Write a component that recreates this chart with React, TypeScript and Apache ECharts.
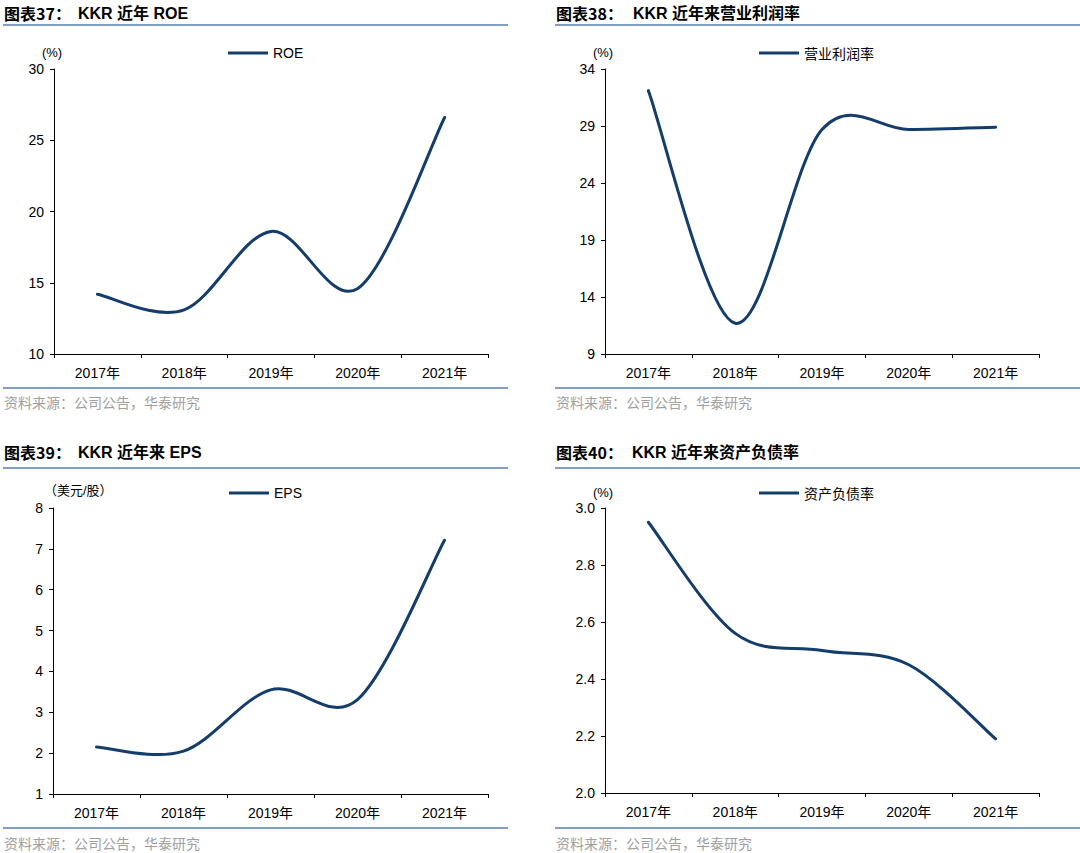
import React, { useEffect, useRef } from "react";
import * as echarts from "echarts";

const years = ["2017年", "2018年", "2019年", "2020年", "2021年"];
const roe = [14.2, 13.1, 18.6, 14.6, 26.6];
const opMargin = [32.1, 11.7, 28.7, 28.7, 28.9];
const eps = [2.15, 2.05, 3.55, 3.31, 7.21];
const debtRatio = [2.95, 2.56, 2.5, 2.45, 2.19];

const seriesNames = ["ROE", "营业利润率", "EPS", "资产负债率"];
const seriesData = [roe, opMargin, eps, debtRatio];
const yMins = [10, 9, 1, 2.0];
const yMaxs = [30, 34, 8, 3.0];
const yIntervals = [5, 5, 1, 0.2];
const yDecimals = [0, 0, 0, 1];
const unitNames = ["(%)", "(%)", "（美元/股）", "(%)"];
const figNos = ["图表37：", "图表38：", "图表39：", "图表40："];
const figTitles = ["KKR 近年 ROE", "KKR 近年来营业利润率", "KKR 近年来 EPS", "KKR 近年来资产负债率"];
const sourceText = "资料来源：公司公告，华泰研究";

const LINE_COLOR = "#143d6c";
const RULE_COLOR = "#819fc6";
const FONT = "'Liberation Sans', Arial, 'Noto Sans CJK SC', sans-serif";
const CJK = "'Noto Sans CJK SC', 'Liberation Sans', sans-serif";

// panel layout
const grids = [
  { left: 54, top: 69, width: 434, height: 285 },
  { left: 605, top: 69, width: 434, height: 285 },
  { left: 53, top: 508, width: 435, height: 286 },
  { left: 605, top: 508, width: 434, height: 285 },
];
const panelX = [4, 556, 4, 556];
const panelTitleX = [78, 633, 78, 632];
const titleY = [14, 14, 453, 453];
const ruleTopY = [25, 25, 468, 468];
const ruleBotY = [388, 388, 828, 828];
const ruleX2 = [508, 1080, 508, 1080];
const sourceY = [402, 402, 843, 843];
const legendPos = [
  { left: 228, top: 46 },
  { left: 759, top: 46 },
  { left: 229, top: 486 },
  { left: 759, top: 486 },
];
const unitPos = [
  { x: 52, y: 52, align: "center" },
  { x: 603, y: 52, align: "center" },
  { x: 44, y: 490, align: "left" },
  { x: 603, y: 492, align: "center" },
];

// Smoothed line (Catmull-Rom style, as in spreadsheet smoothed lines), using axis coords
function makeRenderItem(values: number[]) {
  return (params: any, api: any) => {
    if (params.dataIndex !== 0) return null;
    const pts: number[][] = values.map((v, j) => api.coord([j, v]));
    let d = `M${pts[0][0]},${pts[0][1]}`;
    for (let j = 0; j < pts.length - 1; j++) {
      const p0 = pts[j - 1] || pts[j];
      const p1 = pts[j];
      const p2 = pts[j + 1];
      const p3 = pts[j + 2] || pts[j + 1];
      const c1x = p1[0] + (p2[0] - p0[0]) / 6;
      const c1y = p1[1] + (p2[1] - p0[1]) / 6;
      const c2x = p2[0] - (p3[0] - p1[0]) / 6;
      const c2y = p2[1] - (p3[1] - p1[1]) / 6;
      d += ` C${c1x},${c1y} ${c2x},${c2y} ${p2[0]},${p2[1]}`;
    }
    return {
      type: "path",
      shape: { pathData: d },
      style: { stroke: LINE_COLOR, lineWidth: 3, fill: "none", lineCap: "round", lineJoin: "round" },
    };
  };
}

export default function App() {
  const ref = useRef<HTMLDivElement>(null);
  useEffect(() => {
    if (!ref.current) return;
    const chart = echarts.init(ref.current, undefined, { renderer: "svg" });
    const graphic: any[] = [];
    for (let i = 0; i < 4; i++) {
      graphic.push({
        type: "text",
        left: panelX[i],
        top: titleY[i] - 9,
        style: { text: figNos[i], font: `bold 16px ${CJK}`, fill: "#000" },
      });
      graphic.push({
        type: "text",
        left: panelTitleX[i],
        top: titleY[i] - 9,
        style: { text: figTitles[i], font: `bold 16px ${FONT}`, fill: "#000" },
      });
      graphic.push({
        type: "line",
        shape: { x1: panelX[i] - 1, y1: ruleTopY[i], x2: ruleX2[i], y2: ruleTopY[i] },
        style: { stroke: RULE_COLOR, lineWidth: 2 },
      });
      graphic.push({
        type: "line",
        shape: { x1: panelX[i] - 1, y1: ruleBotY[i], x2: ruleX2[i], y2: ruleBotY[i] },
        style: { stroke: RULE_COLOR, lineWidth: 2 },
      });
      graphic.push({
        type: "text",
        x: panelX[i],
        y: sourceY[i],
        style: {
          text: sourceText,
          font: `14px ${CJK}`,
          fill: "#a0a0a0",
          verticalAlign: "middle",
          align: "left",
        },
      });
      graphic.push({
        type: "text",
        x: unitPos[i].x,
        y: unitPos[i].y,
        style: {
          text: unitNames[i],
          font: `13px ${FONT}`,
          fill: "#000",
          verticalAlign: "middle",
          align: unitPos[i].align,
        },
      });
    }

    const option: any = {
      animation: false,
      backgroundColor: "#fff",
      grid: grids.map((g) => ({ ...g, containLabel: false })),
      xAxis: grids.map((_, i) => ({
        type: "category",
        gridIndex: i,
        data: years,
        boundaryGap: true,
        axisLine: { lineStyle: { color: "#000", width: 1 } },
        axisTick: { show: true, length: 4, alignWithLabel: false, lineStyle: { color: "#000" } },
        axisLabel: { fontSize: 14, color: "#000", margin: 12, fontFamily: FONT },
        splitLine: { show: false },
      })),
      yAxis: grids.map((_, i) => ({
        type: "value",
        gridIndex: i,
        min: yMins[i],
        max: yMaxs[i],
        interval: yIntervals[i],
        axisLine: { show: true, lineStyle: { color: "#000", width: 1 } },
        axisTick: { show: true, length: 4, lineStyle: { color: "#000" } },
        axisLabel: {
          fontSize: 14,
          color: "#000",
          margin: 10,
          fontFamily: FONT,
          formatter: (v: number) => v.toFixed(yDecimals[i]),
        },
        splitLine: { show: false },
      })),
      legend: grids.map((_, i) => ({
        data: [seriesNames[i]],
        left: legendPos[i].left,
        top: legendPos[i].top,
        padding: 0,
        icon: "rect",
        itemWidth: 40,
        itemHeight: 3,
        textStyle: { fontSize: 14, color: "#000", fontFamily: i % 2 === 1 ? CJK : FONT },
      })),
      series: grids.map((_, i) => ({
        name: seriesNames[i],
        type: "custom",
        xAxisIndex: i,
        yAxisIndex: i,
        data: seriesData[i].map((v, j) => [j, v]),
        encode: { x: 0, y: 1 },
        renderItem: makeRenderItem(seriesData[i]),
        itemStyle: { color: LINE_COLOR },
        clip: false,
      })),
      graphic,
    };
    chart.setOption(option);
    return () => chart.dispose();
  }, []);
  return (
    <div
      ref={ref}
      style={{ position: "absolute", left: 0, top: 0, width: 1080, height: 853, background: "#fff" }}
    />
  );
}
